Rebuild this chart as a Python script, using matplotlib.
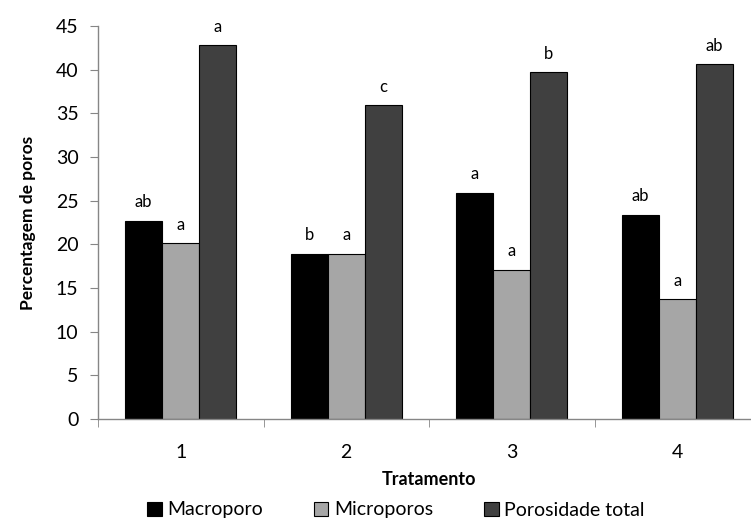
import matplotlib
matplotlib.use("Agg")
import matplotlib.pyplot as plt
import numpy as np

plt.rcParams['font.family'] = ['Lato', 'DejaVu Sans']

categories = ["1", "2", "3", "4"]
series_names = ["Macroporo", "Microporos", "Porosidade total"]
macro = [22.7, 18.9, 25.9, 23.4]
micro = [20.1, 18.9, 17.1, 13.7]
total = [42.8, 35.9, 39.7, 40.6]
macro_letters = ["ab", "b", "a", "ab"]
micro_letters = ["a", "a", "a", "a"]
total_letters = ["a", "c", "b", "ab"]

colors = ["#000000", "#a6a6a6", "#404040"]

fig = plt.figure(figsize=(7.51, 5.23), dpi=100)
ax = fig.add_axes([98/751, 104/523, 662/751, 393/523])

x = np.arange(1, len(categories) + 1)
w = 0.224
data = [macro, micro, total]
letters = [macro_letters, micro_letters, total_letters]
for i, (vals, lab, col, name) in enumerate(zip(data, letters, colors, series_names)):
    pos = x + (i - 1) * w
    ax.bar(pos, vals, width=w, color=col, edgecolor="#000000", linewidth=0.8, label=name, zorder=2)
    for p, v, l in zip(pos, vals, lab):
        ax.text(p, v + 1.2, l, ha="center", va="bottom", fontsize=12)

ax.set_xlim(0.5, 4.5)
ax.set_ylim(0, 45)
ax.set_yticks(np.arange(0, 46, 5))
ax.set_xticks(x)
ax.set_xticklabels(categories)
ax.set_xticks(np.arange(0.5, 4.6, 1), minor=True)
ax.tick_params(axis="x", which="major", length=0, pad=18, labelsize=14)
ax.tick_params(axis="x", which="minor", length=6, color="#868686", direction="out")
ax.tick_params(axis="y", length=6, color="#868686", direction="out", labelsize=14, pad=8)

for s in ["top", "right"]:
    ax.spines[s].set_visible(False)
for s in ["left", "bottom"]:
    ax.spines[s].set_color("#868686")
    ax.spines[s].set_linewidth(1.0)

ax.set_ylabel("Percentagem de poros", fontsize=12.5, fontweight="bold", labelpad=14)
ax.set_xlabel("Tratamento", fontsize=13, fontweight="bold", labelpad=7)

handles, labels = ax.get_legend_handles_labels()
fig.legend(handles, labels, loc="center", bbox_to_anchor=(396/751, 1 - 510/523),
           ncol=3, frameon=False, fontsize=14, handlelength=0.75, handleheight=0.75,
           columnspacing=2.6, handletextpad=0.3, borderaxespad=0)

fig.savefig("out.png", dpi=100)
